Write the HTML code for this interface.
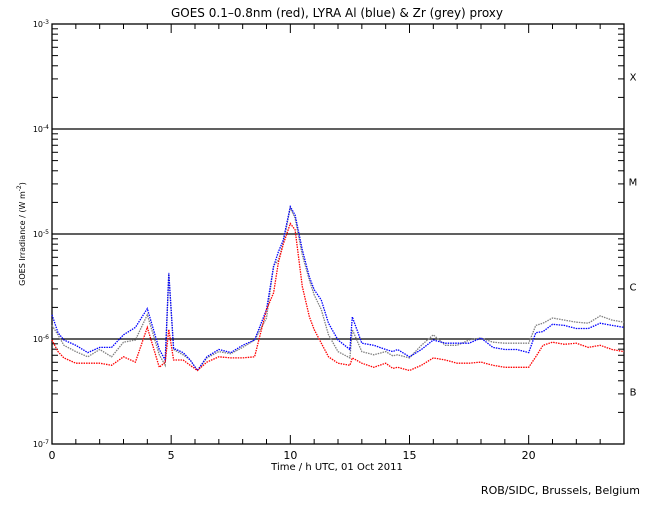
<!DOCTYPE html>
<html><head><meta charset="utf-8"><style>
body{margin:0;background:#fff}
svg text{font-family:"DejaVu Sans","Liberation Sans",sans-serif;fill:#000}
</style></head><body>
<svg id="chart" width="650" height="500" viewBox="0 0 650 500" xmlns="http://www.w3.org/2000/svg">
<rect width="650" height="500" fill="#fff"/>
<text x="337" y="17" font-size="12" text-anchor="middle">GOES 0.1–0.8nm (red), LYRA Al (blue) &amp; Zr (grey) proxy</text>
<text x="337" y="470" font-size="10" text-anchor="middle">Time / h UTC, 01 Oct 2011</text>
<text transform="translate(25,234) rotate(-90)" font-size="8" text-anchor="middle">GOES Irradiance / (W m<tspan font-size="6" dy="-4">-2</tspan><tspan dy="4">)</tspan></text>
<text x="640" y="494" font-size="11" text-anchor="end">ROB/SIDC, Brussels, Belgium</text>
<g id="axes"></g>
<g id="series"></g>
</svg>
<script>
const hours=[0,0.25,0.5,1,1.5,2,2.5,3,3.5,4,4.5,4.75,4.9,5.1,5.5,5.8,6.1,6.5,7,7.5,8,8.5,9,9.3,9.5,9.7,10,10.2,10.5,10.8,11,11.3,11.6,12,12.5,12.6,13,13.5,14,14.3,14.5,15,15.5,16,16.5,17,17.5,18,18.5,19,19.5,20,20.3,20.6,21,21.5,22,22.5,23,23.5,24];
const goesLog=[-6.01,-6.12,-6.18,-6.23,-6.23,-6.23,-6.25,-6.17,-6.22,-5.89,-6.27,-6.22,-5.91,-6.20,-6.20,-6.25,-6.30,-6.22,-6.17,-6.18,-6.18,-6.17,-5.72,-5.56,-5.27,-5.10,-4.90,-4.96,-5.50,-5.79,-5.91,-6.04,-6.17,-6.23,-6.25,-6.18,-6.23,-6.27,-6.23,-6.28,-6.27,-6.30,-6.25,-6.18,-6.20,-6.23,-6.23,-6.22,-6.25,-6.27,-6.27,-6.27,-6.17,-6.06,-6.03,-6.05,-6.04,-6.08,-6.06,-6.10,-6.12];
const alLog=[-5.77,-5.94,-6.01,-6.06,-6.13,-6.08,-6.08,-5.96,-5.89,-5.71,-6.10,-6.20,-5.37,-6.09,-6.13,-6.20,-6.30,-6.17,-6.10,-6.13,-6.06,-6.01,-5.72,-5.31,-5.17,-5.06,-4.74,-4.82,-5.15,-5.41,-5.53,-5.63,-5.85,-6.01,-6.10,-5.79,-6.04,-6.06,-6.10,-6.12,-6.10,-6.17,-6.10,-6.01,-6.04,-6.04,-6.04,-5.99,-6.08,-6.10,-6.10,-6.13,-5.94,-5.93,-5.86,-5.87,-5.90,-5.90,-5.85,-5.87,-5.89];
const zrLog=[-5.87,-5.96,-6.06,-6.12,-6.17,-6.10,-6.17,-6.03,-6.01,-5.77,-6.15,-6.25,-5.38,-6.10,-6.15,-6.20,-6.30,-6.18,-6.12,-6.14,-6.08,-6.01,-5.80,-5.30,-5.25,-5.09,-4.75,-4.85,-5.20,-5.44,-5.58,-5.72,-5.96,-6.12,-6.18,-5.91,-6.12,-6.15,-6.12,-6.16,-6.15,-6.18,-6.06,-5.96,-6.06,-6.06,-6.01,-5.99,-6.03,-6.04,-6.04,-6.04,-5.87,-5.85,-5.80,-5.82,-5.84,-5.85,-5.78,-5.82,-5.84];
const xTicks=[0,5,10,15,20];
const yDecades=[-3,-4,-5,-6,-7];
const thresholds=[-4,-5,-6];
const classes=["X","M","C","B"];

const L=52,R=624,T=24,B=444;
const xs=h=>L+(R-L)*h/24;
const ys=lg=>T+(-3-lg)*(B-T)/4;
const NS="http://www.w3.org/2000/svg";
const ax=document.getElementById('axes'), sg=document.getElementById('series');
function mk(tag,at,par){const e=document.createElementNS(NS,tag);for(const k in at)e.setAttribute(k,at[k]);par.appendChild(e);return e;}
const frame=mk('rect',{x:L,y:T,width:R-L,height:B-T,fill:'none',stroke:'#000','stroke-width':1.3},ax);


for(let h=0;h<=24;h++){
  const major=xTicks.includes(h);const len=major?9:5;
  const t1=mk('line',{x1:xs(h),x2:xs(h),y1:B,y2:B-len,stroke:'#000'},ax);
  
  
  const t2=mk('line',{x1:xs(h),x2:xs(h),y1:T,y2:T+len,stroke:'#000'},ax);
  
  
}
xTicks.forEach(h=>{const t=mk('text',{x:xs(h),y:B+15,'font-size':11,'text-anchor':'middle'},ax);t.textContent=h;
  
  });
thresholds.forEach(d=>{
  const y=ys(d);
  const g=mk('line',{x1:L,x2:R,y1:y,y2:y,stroke:'#000','stroke-width':1.3},ax);
  
  
});
yDecades.forEach((d,i)=>{
  const y=ys(d);
  const t=mk('text',{x:L-3,y:y+3,'font-size':8,'text-anchor':'end'},ax);
  t.innerHTML='10<tspan font-size="6" dy="-3">'+d+'</tspan>';
  
  
  if(d>-7){for(let m=2;m<=9;m++){const yy=ys(d-1+Math.log10(m));
    const a=mk('line',{x1:L,x2:L+6,y1:yy,y2:yy,stroke:'#000'},ax);
    
    
    const b=mk('line',{x1:R,x2:R-6,y1:yy,y2:yy,stroke:'#000'},ax);
    
    }}
});
classes.forEach((c,i)=>{const t=mk('text',{x:633,y:ys(-3.5-i)+4,'font-size':10,'text-anchor':'middle'},ax);t.textContent=c;
  
  });
function series(arr,col,name){
  const pts=hours.map((h,i)=>xs(h).toFixed(1)+','+ys(arr[i]).toFixed(1)).join(' ');
  const p=mk('polyline',{points:pts,fill:'none',stroke:col,'stroke-width':1.3,'stroke-dasharray':'1.5 1'},sg);
  
  
}
series(zrLog,'#808080','zr-proxy-series');
series(alLog,'#0000ff','al-proxy-series');
series(goesLog,'#ff0000','goes-series');
</script>
</body></html>
